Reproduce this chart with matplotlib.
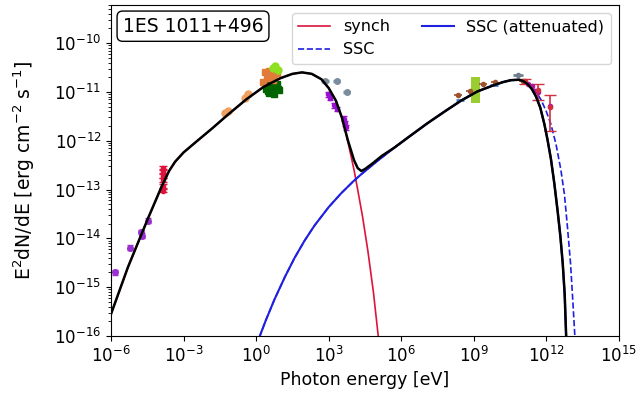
import numpy as np
import matplotlib
matplotlib.use("Agg")
from matplotlib import pyplot as plt

# ---- model curves (log10 E [eV], log10 E^2 dN/dE [erg cm^-2 s^-1]) ----
synch_log_e = [-6.0, -5.3, -4.47, -3.9, -3.6, -3.35, -3.0, -2.5, -1.8, -1.2, -0.4, 0.3,
               1.0, 1.5, 1.9, 2.3, 2.7, 3.0, 3.3, 3.55, 3.8, 4.05, 4.2, 4.4, 4.62, 4.85, 5.05, 5.2]
synch_log_f = [-15.55, -14.59, -13.59, -12.93, -12.62, -12.43, -12.24, -12.03, -11.74, -11.48, -11.15, -10.90,
               -10.72, -10.63, -10.60, -10.63, -10.74, -10.92, -11.18, -11.53, -12.03, -12.60, -13.0, -13.55,
               -14.25, -15.10, -16.0, -16.8]

ssc_att_log_e = [0.0, 0.4, 0.76, 1.2, 1.59, 2.0, 2.41, 3.0, 3.51, 4.0, 4.34, 5.0, 5.72, 6.4, 7.09, 7.8,
                 8.47, 9.15, 9.84, 10.2, 10.53, 10.87, 11.05, 11.23, 11.4, 11.57, 11.75, 11.92, 12.05,
                 12.19, 12.33, 12.47, 12.58, 12.68, 12.76, 12.82, 12.9]
ssc_att_log_f = [-16.2, -15.68, -15.25, -14.78, -14.40, -14.05, -13.74, -13.36, -13.08, -12.84, -12.69,
                 -12.42, -12.14, -11.89, -11.64, -11.40, -11.18, -10.99, -10.86, -10.80, -10.76, -10.75,
                 -10.78, -10.84, -10.94, -11.09, -11.32, -11.66, -11.98, -12.37, -12.87, -13.45, -13.95,
                 -14.52, -15.15, -16.0, -17.0]

ssc_log_e = [0.0, 0.4, 0.76, 1.2, 1.59, 2.0, 2.41, 3.0, 3.51, 4.0, 4.34, 5.0, 5.72, 6.4, 7.09, 7.8,
             8.47, 9.15, 9.84, 10.2, 10.53, 10.87, 11.05, 11.23, 11.4, 11.57, 11.78, 12.0, 12.19,
             12.4, 12.6, 12.75, 12.88, 13.0, 13.09, 13.18, 13.25]
ssc_log_f = [-16.2, -15.68, -15.25, -14.78, -14.40, -14.05, -13.74, -13.36, -13.08, -12.84, -12.69,
             -12.42, -12.14, -11.89, -11.64, -11.40, -11.18, -10.99, -10.86, -10.80, -10.76, -10.75,
             -10.77, -10.82, -10.89, -10.99, -11.16, -11.40, -11.66, -12.07, -12.59, -13.10, -13.80,
             -14.50, -15.23, -16.0, -16.6]

total_log_e = [-6.0, -5.3, -4.47, -3.9, -3.6, -3.35, -3.0, -2.5, -1.8, -1.2, -0.4, 0.3,
               1.0, 1.5, 1.9, 2.3, 2.7, 3.0, 3.3, 3.55, 3.8, 4.05, 4.2, 4.35, 4.5, 4.8, 5.2,
               5.72, 6.4, 7.09, 7.8, 8.47, 9.15, 9.84, 10.2, 10.53, 10.87, 11.05, 11.23, 11.4, 11.57,
               11.75, 11.92, 12.05, 12.19, 12.33, 12.47, 12.58, 12.68, 12.76, 12.82, 12.9]
total_log_f = [-15.55, -14.59, -13.59, -12.93, -12.62, -12.43, -12.24, -12.03, -11.74, -11.48, -11.15, -10.90,
               -10.72, -10.63, -10.60, -10.63, -10.74, -10.92, -11.18, -11.53, -12.0, -12.40, -12.56, -12.62,
               -12.58, -12.47, -12.31,
               -12.14, -11.89, -11.64, -11.40, -11.18, -10.99, -10.86, -10.80, -10.76, -10.75, -10.78,
               -10.84, -10.94, -11.09, -11.32, -11.66, -11.98, -12.37, -12.87, -13.45, -13.95, -14.52,
               -15.15, -16.0, -17.0]

# ---- data points ----
radio_log_e = [-5.85, -5.23, -4.75, -4.72, -4.47]
radio_log_f = [-14.69, -14.19, -13.87, -13.95, -13.64]

mm_log_e = [-3.87, -3.85, -3.83, -3.86, -3.84, -3.85]
mm_log_f = [-12.55, -12.62, -12.72, -12.80, -12.92, -13.02]

ir_log_e = [-1.3, -1.15, -0.45, -0.35]
ir_log_f = [-11.43, -11.40, -11.12, -11.05]

opt_green_log_e = [0.40, 0.5, 0.6, 0.7, 0.8, 0.9, 0.45, 0.65, 0.85, 0.55, 0.75, 0.95]
opt_green_log_f = [-10.95, -10.98, -10.92, -11.0, -10.9, -10.93, -10.85, -10.88, -10.84, -11.03, -11.05, -10.97]
opt_orange_log_e = [0.30, 0.45, 0.6, 0.75, 0.38, 0.55, 0.7, 0.85]
opt_orange_log_f = [-10.80, -10.72, -10.65, -10.70, -10.60, -10.57, -10.75, -10.62]
opt_light_log_e = [0.70, 0.80, 0.9]
opt_light_log_f = [-10.52, -10.46, -10.56]

xray_log_e = [2.97, 3.05, 3.24, 3.35, 3.62, 3.66, 3.72]
xray_log_f = [-11.05, -11.12, -11.27, -11.35, -11.55, -11.64, -11.72]
xray_gray_log_e = [2.85, 3.33, 3.75]
xray_gray_log_f = [-10.77, -10.77, -11.0]

lat_log_e = [8.35, 8.83, 9.38, 9.87, 11.04]
lat_log_f = [-11.07, -10.98, -10.84, -10.79, -10.77]
lat_blue_log_e = [8.42, 9.85]
lat_blue_log_f = [-11.17, -10.86]
lat_gray_log_e = [10.83]
lat_gray_log_f = [-10.66]
box_log_e = [8.9, 9.25]
box_log_f = [-11.23, -10.70]

vhe_log_e = [11.1, 11.65, 12.14]
vhe_log_f = [-10.78, -10.96, -11.30]
vhe_err_up = [0.05, 0.12, 0.23]
vhe_err_lo = [0.05, 0.20, 0.50]
vhe2_log_e = [11.25, 11.4, 11.55, 11.65, 12.14]
vhe2_log_f = [-10.83, -10.88, -10.98, -11.0, -11.29]


def p10(a):
    return np.power(10.0, np.asarray(a, dtype=float))


def dex_err(log_v, lo, hi):
    v = p10(log_v)
    return [v - v * p10(-np.asarray(lo, dtype=float)), v * p10(hi) - v]


plt.rc('font', size=12)
fig = plt.figure(figsize=(6.38, 3.93), dpi=100)
ax = fig.add_axes([0.174, 0.145, 0.796, 0.842])

ax.plot(p10(synch_log_e), p10(synch_log_f), color='crimson', lw=1.2, label='synch')
ax.plot(p10(ssc_log_e), p10(ssc_log_f), color='#2020e0', lw=1.2, ls='--', label='SSC')
ax.plot(p10(ssc_att_log_e), p10(ssc_att_log_f), color='#2020e0', lw=1.5, label='SSC (attenuated)')

# data
n = len(radio_log_e)
ax.errorbar(p10(radio_log_e), p10(radio_log_f), yerr=dex_err(radio_log_f, [0.05] * n, [0.05] * n),
            fmt='o', ms=4, color='#9a30d0', capsize=2, lw=1)
n = len(mm_log_e)
ax.errorbar(p10(mm_log_e), p10(mm_log_f), yerr=dex_err(mm_log_f, [0.04] * n, [0.04] * n),
            fmt='o', ms=3, color='crimson', capsize=3, lw=1)
ax.plot(p10(ir_log_e), p10(ir_log_f), 'o', ms=5, color='#f0a060')
ax.plot(p10(opt_green_log_e), p10(opt_green_log_f), 's', ms=5, color='darkgreen')
ax.plot(p10(opt_orange_log_e), p10(opt_orange_log_f), 's', ms=5, color='#e07b39')
ax.plot(p10(opt_light_log_e), p10(opt_light_log_f), 'o', ms=5, color='#8ee020')
n = len(xray_log_e)
ax.errorbar(p10(xray_log_e), p10(xray_log_f), yerr=dex_err(xray_log_f, [0.05] * n, [0.05] * n),
            fmt='o', ms=3, color='#9a10d0', capsize=2.5, lw=1)
n = len(xray_gray_log_e)
ax.errorbar(p10(xray_gray_log_e), p10(xray_gray_log_f), xerr=dex_err(xray_gray_log_e, [0.15] * n, [0.15] * n),
            fmt='o', ms=4, color='#7b8c9c', lw=2.5)
n = len(lat_log_e)
ax.errorbar(p10(lat_log_e), p10(lat_log_f), xerr=dex_err(lat_log_e, [0.15] * n, [0.15] * n),
            yerr=dex_err(lat_log_f, [0.04] * n, [0.04] * n), fmt='o', ms=3, color='#a0522d', lw=1.2)
ax.plot(p10(lat_blue_log_e), p10(lat_blue_log_f), '_', ms=6, mew=2, color='#3a7ad8')
ax.errorbar(p10(lat_gray_log_e), p10(lat_gray_log_f), xerr=dex_err(lat_gray_log_e, [0.2], [0.2]),
            fmt='o', ms=3, color='#708090', lw=2)
ax.fill_between(p10(box_log_e), p10(box_log_f[0]), p10(box_log_f[1]), color='yellowgreen', lw=0)
ax.errorbar(p10(vhe_log_e), p10(vhe_log_f), yerr=dex_err(vhe_log_f, vhe_err_lo, vhe_err_up),
            fmt='o', ms=3, color='#d03040', capsize=4, lw=1.2)
ax.plot(p10(vhe2_log_e), p10(vhe2_log_f), 'o', ms=3, color='#b0189a')

ax.plot(p10(total_log_e), p10(total_log_f), color='black', lw=1.8, zorder=5)

ax.set_xscale('log')
ax.set_yscale('log')
ax.set_xlim(1e-6, 1e15)
ax.set_ylim(1e-16, 6e-10)
ax.set_xlabel('Photon energy [eV]', fontsize=12.5, labelpad=4)
ax.set_ylabel(r'E$^2$dN/dE [erg cm$^{-2}$ s$^{-1}$]', fontsize=13.5, labelpad=12)

ax.text(0.023, 0.965, '1ES 1011+496', transform=ax.transAxes, fontsize=13.5, va='top', ha='left',
        bbox=dict(boxstyle='round', facecolor='white', edgecolor='black'))
ax.legend(loc='upper right', ncol=2, fontsize=11.5)

fig.savefig('out.png', dpi=100)
